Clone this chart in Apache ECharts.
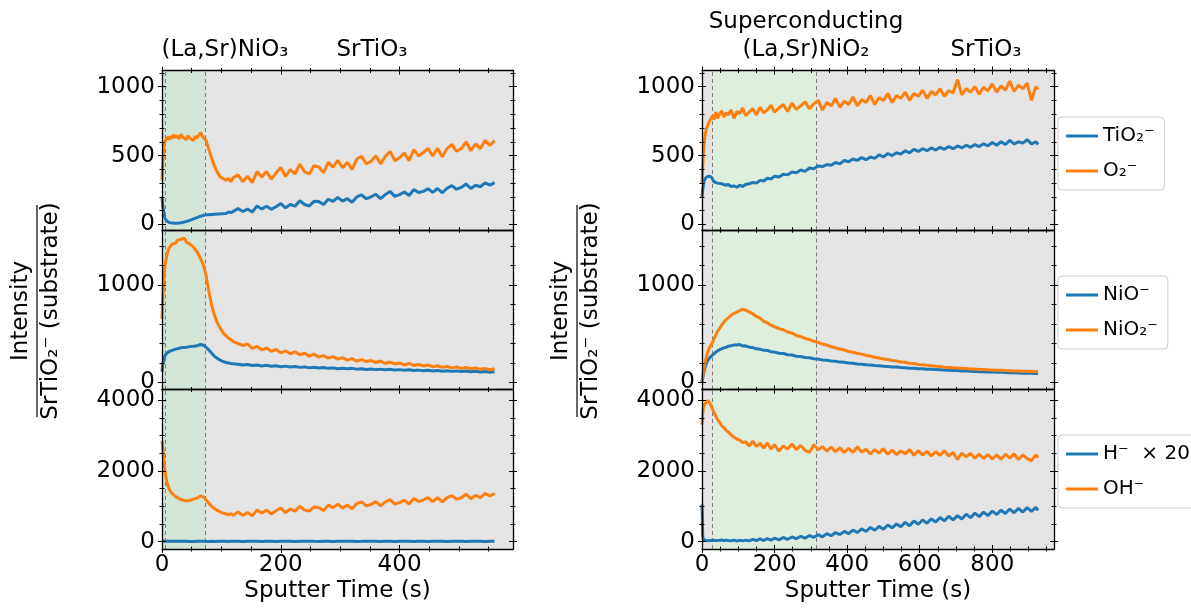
<!DOCTYPE html>
<html><head><meta charset="utf-8">
<script src="https://cdn.jsdelivr.net/npm/echarts@6/dist/echarts.min.js"></script>
<style>html,body{margin:0;padding:0;background:#fff}#chart{width:1191px;height:609px}</style>
</head><body><div id="chart"></div>
<script>
// ---------- DATA ----------
// Left column: (La,Sr)NiO3 sample, sputter time (s)
const timeLeft = [0,1,2,3,4,5,6,8,10,12,
14,17,20,23,26,29,32,35,38,41,
44,47,50,53,56,59,62,65,68,71,
74,77,80,83,86,89,92,95,98,101,
104,108,112,116,120,128,136,144,152,160,
168,176,184,192,200,208,216,224,232,240,
248,256,264,272,280,288,296,304,312,320,
328,336,344,352,360,368,376,384,392,400,
408,416,424,432,440,448,456,464,472,480,
488,496,504,512,520,528,536,544,552,560];

const leftTiO2 = [200,150,110,80,60,45,35,25,18,14,
12,10,9,9,10,11,13,15,18,22,
26,30,35,40,45,50,55,60,65,68,
72,70,76,72,78,74,80,76,82,78,
85,80,90,86,95,115,94,112,91,134,
113,132,110,129,152,121,145,133,172,145,
134,168,166,145,183,167,196,169,188,161,
200,214,187,201,219,188,217,240,204,217,
236,210,253,232,240,259,233,261,230,263,
282,256,269,293,261,285,274,302,286,304];
const leftO2 = [320,420,500,560,590,600,610,620,635,615,
640,625,650,630,645,620,655,635,640,615,
645,625,630,610,640,625,650,665,640,630,
610,570,530,490,450,420,390,365,345,335,
330,320,335,310,340,360,310,350,304,384,
344,384,329,373,413,348,398,368,437,382,
367,427,417,376,451,416,466,411,450,400,
475,495,440,459,499,439,494,529,463,483,
518,463,543,497,522,552,497,552,491,551,
581,531,551,600,535,585,550,610,574,609];
const leftNiO = [110,170,210,240,260,275,285,300,310,318,
325,330,338,342,348,352,356,360,365,362,
370,368,374,372,380,378,385,390,388,380,
365,345,325,305,285,265,250,240,228,220,
212,205,200,195,192,188,180,185,175,180,
170,176,166,172,162,168,158,164,155,160,
150,156,148,153,145,150,142,147,140,145,
137,142,134,139,132,137,130,135,127,132,
125,130,122,127,120,125,118,123,116,121,
114,119,112,117,110,115,108,113,106,111];
const leftNiO2 = [650,820,950,1050,1130,1190,1240,1300,1350,1380,
1400,1420,1440,1430,1460,1445,1470,1450,1480,1440,
1455,1420,1410,1390,1370,1340,1310,1270,1230,1180,
1100,1000,900,810,740,680,630,590,555,530,
500,480,455,440,420,400,380,395,350,370,
335,355,320,340,305,325,295,315,285,300,
270,290,260,275,250,265,240,255,230,245,
220,235,215,225,205,220,195,210,190,200,
180,195,175,185,170,180,160,172,155,165,
150,160,145,155,140,150,135,145,130,140];
const leftH = [30,20,15,12,10,10,8,8,6,6,
5,9,4,8,6,10,5,9,7,11,
6,4,9,5,8,12,6,9,4,7,
10,5,8,6,11,4,9,7,5,10,
6,8,4,9,7,11,5,8,6,10,
4,9,7,5,12,6,8,5,9,7,
10,6,4,8,11,5,9,7,6,10,
5,8,12,6,9,4,7,10,5,8,
6,11,4,9,7,5,10,6,8,4,
9,7,11,5,8,6,10,4,9,7];
const leftOH = [2850,2700,2500,2300,2150,2000,1880,1700,1580,1490,
1420,1360,1310,1270,1240,1210,1190,1170,1160,1150,
1155,1165,1180,1200,1210,1230,1250,1290,1270,1250,
1180,1120,1060,1010,960,920,890,860,840,810,
800,780,760,790,740,840,740,820,730,890,
810,890,780,870,950,820,920,860,1000,890,
860,980,960,880,1030,960,1060,950,1030,930,
1080,1120,1010,1050,1130,1010,1120,1190,1060,1100,
1170,1060,1220,1130,1180,1240,1130,1240,1120,1240,
1300,1200,1240,1340,1210,1310,1240,1360,1290,1360];

// Right column: superconducting (La,Sr)NiO2 sample
const timeRight = [0,2,4,6,8,10,13,16,19,22,
25,29,33,38,43,48,54,60,66,72,
80,88,96,104,112,120,130,140,150,160,
170,180,190,200,212,224,236,248,260,272,
284,296,308,320,332,344,356,368,380,392,
404,416,428,440,452,464,476,488,500,512,
524,536,548,560,572,584,596,608,620,632,
644,656,668,680,692,704,716,728,740,752,
764,776,788,800,812,824,836,848,860,872,
884,896,908,920,926];

const rightTiO2 = [200,250,290,315,330,340,345,335,350,340,
345,330,310,305,300,310,295,290,285,290,
275,280,270,285,275,290,295,305,300,320,
315,335,330,350,345,365,360,380,375,395,
385,410,405,425,420,435,430,450,440,465,
455,475,465,485,470,490,480,505,490,515,
500,520,510,535,520,545,530,550,535,555,
540,560,545,565,550,570,555,575,560,580,
565,585,570,595,575,600,580,610,585,600,
590,615,585,600,580];
const rightO2 = [300,420,520,590,640,670,700,720,740,755,
770,790,760,815,770,800,825,780,810,795,
830,770,820,805,845,790,815,840,795,850,
810,830,865,815,845,870,820,880,835,860,
890,840,875,900,830,885,860,915,850,895,
870,925,860,905,885,935,870,920,900,950,
885,935,915,960,900,950,930,975,915,965,
940,985,930,970,955,1050,940,985,960,1000,
945,995,970,1020,960,1005,975,1040,965,1010,
985,1025,900,1000,980];
const rightNiO = [5,45,85,120,150,175,205,228,245,258,
268,282,295,312,322,337,343,356,360,372,
376,386,384,390,375,376,362,358,345,342,
330,328,316,312,300,298,285,282,270,266,
256,253,243,240,231,228,220,218,209,207,
199,197,190,188,182,180,174,172,167,165,
160,158,153,152,147,146,142,141,137,136,
132,131,127,126,123,122,119,118,115,114,
111,110,108,107,105,104,102,101,99,98,
96,95,94,93,92];
const rightNiO2 = [10,60,115,160,200,235,275,312,342,368,
388,410,448,488,525,552,588,618,645,662,
690,708,722,738,752,742,724,705,678,660,
628,612,588,572,553,541,518,507,483,472,
452,442,423,412,393,384,367,357,343,334,
318,311,298,291,278,272,258,252,240,236,
226,221,211,207,198,194,185,182,176,172,
166,163,157,155,151,149,145,143,139,138,
134,133,130,129,126,125,122,121,119,118,
115,115,112,112,110];
const rightH = [1050,150,60,40,50,30,45,25,40,30,
45,35,50,30,55,35,45,25,40,30,
20,40,15,35,20,40,20,60,25,75,
30,85,40,95,50,115,65,130,80,150,
95,170,120,195,135,225,165,255,195,290,
225,325,255,360,285,400,320,430,350,470,
390,500,420,545,445,580,490,610,520,640,
555,680,585,715,615,735,640,775,675,805,
705,835,735,860,765,890,795,920,815,940,
835,960,855,965,880];
const rightOH = [3300,3600,3800,3750,3900,3850,3950,3990,3960,3900,
3850,3750,3650,3550,3450,3380,3280,3230,3150,3100,
3020,2950,2900,2870,2800,2820,2700,2840,2690,2780,
2640,2790,2620,2740,2560,2700,2620,2760,2600,2720,
2580,2520,2740,2600,2680,2560,2670,2540,2650,2520,
2640,2520,2680,2530,2610,2480,2600,2500,2630,2470,
2590,2460,2560,2480,2600,2440,2570,2450,2550,2420,
2540,2440,2570,2420,2520,2320,2500,2400,2490,2360,
2470,2350,2460,2340,2450,2330,2470,2360,2480,2320,
2450,2350,2290,2450,2370];

// Series names (legend labels)
const rowNames = [['TiO₂⁻','O₂⁻'],['NiO⁻','NiO₂⁻'],['H⁻  × 20','OH⁻']];
// Layer spans (s)
const leftSpan = [0, 72];
const leftDashes = [5, 72];
const rightSpan = [29, 314];
const rightDashes = [29, 314];
// Tick values
const xMajorTicks = [[0,200,400],[0,200,400,600,800]];
const xMinorTicks = [[50,100,150,250,300,350,450,500,550],[50,100,150,250,300,350,450,500,550,650,700,750,850,900,950]];
const yMajorTicks = [[0,500,1000],[0,1000],[0,2000,4000]];
const yMinorTicks = [[100,200,300,400,600,700,800,900,1100],[200,400,600,800,1200,1400],[500,1000,1500,2500,3000,3500]];
const xRanges = [[0,591],[0,970]];
const yRanges = [[-40,1117],[-72,1565],[-210,4300]];

// ---------- BUILD ----------
const FONT = 'DejaVu Sans';
const BLUE = '#1f77b4', ORANGE = '#ff7f0e';
const colPos = [{left:162,width:351},{left:702,width:352}];
const rowPos = [{top:70.5,height:159.5},{top:230,height:159.5},{top:389.5,height:159.5}];
const seriesData = [
  [[leftTiO2,leftO2],[leftNiO,leftNiO2],[leftH,leftOH]],
  [[rightTiO2,rightO2],[rightNiO,rightNiO2],[rightH,rightOH]]
];
const times = [timeLeft, timeRight];
const spans = [leftSpan, rightSpan];
const dashes = [leftDashes, rightDashes];
const spanColors = ['#d3e5d7','#ddeedd'];

const grids=[], xAxes=[], yAxes=[], series=[];
const lineStyleAx = {color:'#000', width:1.3};

function mkAxis(dim, g, range, pos, vals, inside, len, withLine, labelVals, extra) {
  const ax = {
    type:'value', gridIndex:g, position:pos, min:range[0], max:range[1], offset:0, z:6,
    splitLine:{show:false}, splitArea:{show:false}, minorTick:{show:false},
    axisLine:{show:withLine, onZero:false, lineStyle:lineStyleAx},
    axisTick:{show:true, customValues:vals, inside:inside, length:len, lineStyle:{color:'#000', width:1}},
    axisLabel: labelVals ? {show:true, customValues:labelVals, color:'#000', fontFamily:FONT, fontSize:23,
                            hideOverlap:false, formatter: v => String(v)}
                         : {show:false},
    silent:true
  };
  if (extra) Object.assign(ax, extra);
  (dim==='x'?xAxes:yAxes).push(ax);
  return (dim==='x'?xAxes:yAxes).length-1;
}

for (let c=0;c<2;c++){
  for (let r=0;r<3;r++){
    const g = grids.length;
    grids.push({left:colPos[c].left, width:colPos[c].width, top:rowPos[r].top, height:rowPos[r].height,
      show:true, backgroundColor:'#e4e4e4', borderWidth:0, containLabel:false, outerBoundsMode:'none'});
    const xr = xRanges[c], yr = yRanges[r];
    const xExtra = r===2 ? {name:'Sputter Time (s)', nameLocation:'middle', nameGap:31,
        nameTextStyle:{color:'#000', fontFamily:FONT, fontSize:23}} : null;
    const xi = mkAxis('x', g, xr, 'bottom', xMajorTicks[c], false, 4, true, r===2?xMajorTicks[c]:null, xExtra);
    if (r===2) xAxes[xi].axisLabel.margin = 5;
    mkAxis('x', g, xr, 'bottom', xMajorTicks[c], true, 4, false, null);
    mkAxis('x', g, xr, 'bottom', xMinorTicks[c], false, 2.5, false, null);
    mkAxis('x', g, xr, 'bottom', xMinorTicks[c], true, 2.5, false, null);
    mkAxis('x', g, xr, 'top', xMajorTicks[c], false, 4, true, null);
    mkAxis('x', g, xr, 'top', xMajorTicks[c], true, 4, false, null);
    mkAxis('x', g, xr, 'top', xMinorTicks[c], false, 2.5, false, null);
    mkAxis('x', g, xr, 'top', xMinorTicks[c], true, 2.5, false, null);

    const yi = mkAxis('y', g, yr, 'left', yMajorTicks[r], false, 4, true, yMajorTicks[r]);
    yAxes[yi].axisLabel.margin = 7;
    mkAxis('y', g, yr, 'left', yMajorTicks[r], true, 4, false, null);
    mkAxis('y', g, yr, 'left', yMinorTicks[r], false, 2.5, false, null);
    mkAxis('y', g, yr, 'left', yMinorTicks[r], true, 2.5, false, null);
    mkAxis('y', g, yr, 'right', yMajorTicks[r], false, 4, true, null);
    mkAxis('y', g, yr, 'right', yMajorTicks[r], true, 4, false, null);
    mkAxis('y', g, yr, 'right', yMinorTicks[r], false, 2.5, false, null);
    mkAxis('y', g, yr, 'right', yMinorTicks[r], true, 2.5, false, null);

    const t = times[c];
    const pair = seriesData[c][r];
    [BLUE, ORANGE].forEach((col, k) => {
      const s = {
        type:'line', name: rowNames[r][k], xAxisIndex: xi, yAxisIndex: yi,
        data: t.map((x,i)=>[x, pair[k][i]]),
        symbol:'none', showSymbol:false, smooth:false, silent:true, z:3,
        lineStyle:{color:col, width:3}, itemStyle:{color:col}, clip:true
      };
      if (k===0) {
        s.markArea = {silent:true, z:1, itemStyle:{color:spanColors[c]},
          data:[[{xAxis:spans[c][0]},{xAxis:spans[c][1]}]]};
        s.markLine = {silent:true, z:2, symbol:'none', label:{show:false},
          lineStyle:{type:[4,3], color:'#7a7a7a', width:1},
          data: dashes[c].map(v=>({xAxis:v}))};
      }
      series.push(s);
    });
  }
}

const legendTops = [117, 276, 435];
const legends = rowNames.map((names, r) => ({
  data: names.map(n => ({name:n, icon:'rect'})), orient:'vertical', left:1058, top:legendTops[r],
  padding:[8,10,8,8], itemGap:13, itemWidth:32, itemHeight:3,
  backgroundColor:'rgba(255,255,255,0.85)', borderColor:'#cccccc', borderWidth:1, borderRadius:4,
  textStyle:{color:'#000', fontFamily:FONT, fontSize:20, lineHeight:22}, selectedMode:false
}));

function txt(x, y, text, rot) {
  return {type:'text', x:x, y:y, rotation: rot||0, silent:true,
    style:{text:text, fill:'#000', fontFamily:FONT, fontSize:23, align:'center', verticalAlign:'middle',
      textAlign:'center', textVerticalAlign:'middle'}};
}
const graphics = [
  txt(225, 50, '(La,Sr)NiO₃'),
  txt(372, 50, 'SrTiO₃'),
  txt(806, 22, 'Superconducting'),
  txt(806, 50, '(La,Sr)NiO₂'),
  txt(986, 50, 'SrTiO₃')
];
[37, 577].forEach(cx => {
  graphics.push(txt(cx-16, 311, 'Intensity', Math.PI/2));
  graphics.push({type:'line', silent:true, shape:{x1:cx, y1:205, x2:cx, y2:417}, style:{stroke:'#000', lineWidth:1.2}});
  graphics.push(txt(cx+14, 311, 'SrTiO₂⁻ (substrate)', Math.PI/2));
});

const chart = echarts.init(document.getElementById('chart'), null, {renderer:'canvas', width:1191, height:609});
chart.setOption({
  animation:false, backgroundColor:'#ffffff',
  textStyle:{fontFamily:FONT},
  grid:grids, xAxis:xAxes, yAxis:yAxes, series:series, legend:legends, graphic:graphics
});
</script></body></html>
